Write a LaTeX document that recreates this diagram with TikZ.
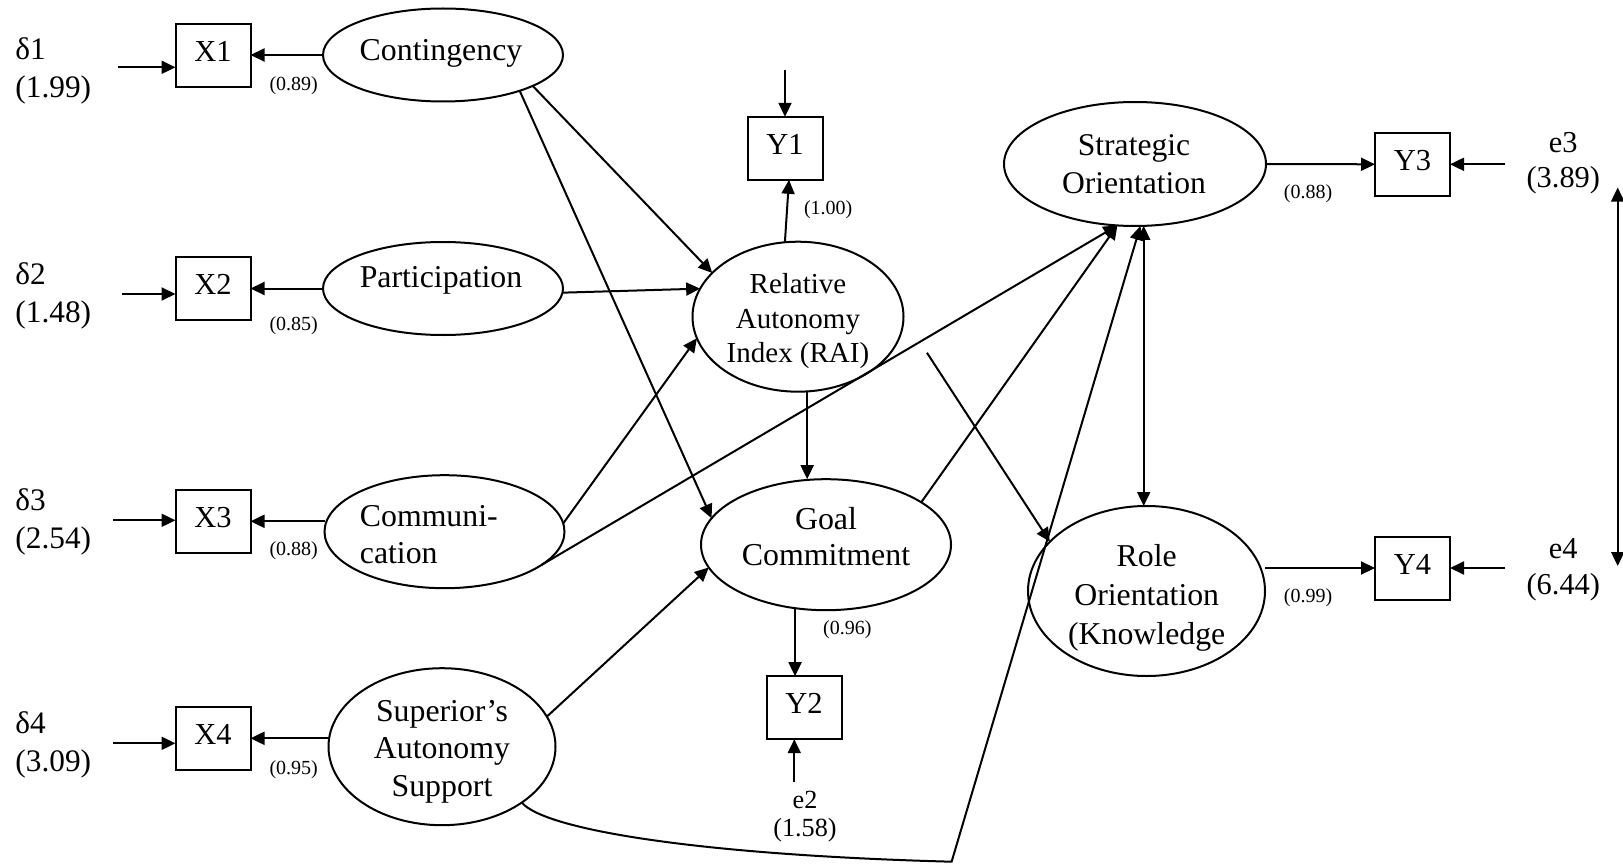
\documentclass[tikz,border=0pt]{standalone}
\usepackage{fontspec}
\setmainfont{Liberation Serif}
\usetikzlibrary{shapes.geometric,arrows.meta,calc}
\newcommand\fsz[2]{\fontsize{#1pt}{#2pt}\selectfont}

\begin{document}
\begin{tikzpicture}[x=1pt,y=-1pt,
  latent/.style={ellipse,draw,line width=2pt,inner sep=0pt,outer sep=0pt},
  observed/.style={rectangle,draw,line width=2pt,minimum width=75pt,minimum height=63pt,
    inner sep=0pt,outer sep=0pt,text depth=8pt,font=\fsz{30.5}{36}},
  arr/.style={line width=2pt,-{Triangle[length=14pt,width=13pt]}},
  darr/.style={line width=2pt,{Triangle[length=14pt,width=13pt]}-{Triangle[length=14pt,width=13pt]}},
  coef/.style={inner sep=0pt,font=\fsz{20}{24}},
  errlbl/.style={inner sep=0pt,align=left,anchor=west,font=\fsz{31.3}{38.3}},
  reslbl/.style={inner sep=0pt,align=center,font=\fsz{30.4}{35.5}},
  lbl/.style={inner sep=0pt,align=center,anchor=north},
]
\useasboundingbox (0,0) rectangle (1623,864);

% latent constructs
\node[latent,minimum width=240pt,minimum height=93pt]  (cont) at (443,55) {};
\node[latent,minimum width=240pt,minimum height=93pt]  (part) at (443,288.5) {};
\node[latent,minimum width=240pt,minimum height=113pt] (comm) at (444.5,531.7) {};
\node[latent,minimum width=227pt,minimum height=157pt] (sup)  at (442,746.7) {};
\node[latent,minimum width=211pt,minimum height=150pt] (rai)  at (798,316.7) {};
\node[latent,minimum width=250pt,minimum height=131pt] (gc)   at (826,544.7) {};
\node[latent,minimum width=262pt,minimum height=124pt] (so)   at (1135,164) {};
\node[latent,minimum width=237pt,minimum height=170pt] (ro)   at (1146.5,591) {};

% construct names
\node[lbl,font=\fsz{31.8}{38}] (conttxt) at (441,39.3) {Contingency};
\node[lbl,font=\fsz{31.8}{38}] (parttxt) at (441,266.7) {Participation};
\node[inner sep=0pt,anchor=north west,align=left,font=\fsz{31.8}{37}] (commtxt) at (359.7,505) {Communi-\\cation};
\node[lbl,font=\fsz{31.8}{37.5}] (suptxt) at (442,700) {Superior’s\\Autonomy\\Support};
\node[lbl,font=\fsz{29}{34.5}] (raitxt) at (798,273.3) {Relative\\Autonomy\\Index (RAI)};
\node[lbl,font=\fsz{31.9}{36.3}] (gctxt) at (826,506.7) {Goal\\Commitment};
\node[lbl,font=\fsz{31.6}{38.3}] (sotxt) at (1134,134.4) {Strategic\\Orientation};
\node[lbl,font=\fsz{31.8}{39}] (rotxt) at (1146.7,544) {Role\\Orientation\\(Knowledge};

% indicators
\node[observed] (x1) at (213,55.3) {X1};
\node[observed] (x2) at (213,288.5) {X2};
\node[observed] (x3) at (213,521.3) {X3};
\node[observed] (x4) at (213,738.3) {X4};
\node[observed] (y1) at (785,148.3) {Y1};
\node[observed] (y2) at (804,707.7) {Y2};
\node[observed] (y3) at (1412.5,164.3) {Y3};
\node[observed] (y4) at (1412.5,568) {Y4};

% error terms
\node[errlbl] (d1) at (15.3,70.8) {δ1\\(1.99)};
\node[errlbl] (d2) at (15.3,295.8) {δ2\\(1.48)};
\node[errlbl] (d3) at (15.3,522) {δ3\\(2.54)};
\node[errlbl] (d4) at (15.3,745) {δ4\\(3.09)};
\node[reslbl] (e3) at (1563.3,163.3) {e3\\(3.89)};
\node[reslbl] (e4) at (1563.3,569.5) {e4\\(6.44)};
\node[inner sep=0pt,align=center,font=\fsz{26.2}{28}] (e2) at (805,816.7) {e2\\(1.58)};

\coordinate (d1s) at (118,67.3);
\coordinate (d2s) at (121.7,294);
\coordinate (d3s) at (113,520.3);
\coordinate (d4s) at (113,743.3);
\coordinate (e1s) at (785,70);
\coordinate (e2s) at (794.3,781.7);
\coordinate (e3s) at (1505,164.3);
\coordinate (e4s) at (1505,568);
\coordinate (cvt) at (1617.7,187.5);
\coordinate (cvb) at (1617.7,566);
\coordinate (bend) at (951.6,861.7);

\draw[arr] (d1s) -- (d1s -| x1.west);
\draw[arr] (d2s) -- (d2s -| x2.west);
\draw[arr] (d3s) -- (d3s -| x3.west);
\draw[arr] (d4s) -- (d4s -| x4.west);
\draw[arr] (e1s) -- (e1s |- y1.north);
\draw[arr] (e2s) -- (e2s |- y2.south);
\draw[arr] (e3s) -- (y3.east);
\draw[arr] (e4s) -- (e4s -| y4.east);
\draw[darr] (cvt) -- (cvb);

% loadings
\draw[arr] (cont.west) -- (cont.west -| x1.east);
\draw[arr] (part.west) -- (part.west -| x2.east);
\draw[arr] (x3.east -| comm.west) -- (x3.east);
\draw[arr] (x4.east -| sup.west) -- (x4.east);
\draw[arr] (rai.100) -- ([xshift=4pt]y1.south);
\draw[arr] (gc.244) -- (gc.244 |- y2.north);
\draw[arr] (so.east) -- (y3.west);
\draw[arr] (y4.west -| ro.east) -- (y4.west);

\node[coef] (c1) at (293.7,85.8) {(0.89)};
\node[coef] (c2) at (293.7,325.8) {(0.85)};
\node[coef] (c3) at (293.7,550.8) {(0.88)};
\node[coef] (c4) at (293.7,769.2) {(0.95)};
\node[coef] (c5) at (828.2,209.2) {(1.00)};
\node[coef] (c6) at (847.3,630) {(0.96)};
\node[coef] (c7) at (1308,193.8) {(0.88)};
\node[coef] (c8) at (1308,597.3) {(0.99)};

% structural paths
\draw[arr] (cont.-19) -- (rai.153);
\draw[arr] (cont.-25) -- (gc.167);
\draw[arr] (part.-2) -- (rai.164);
\draw[arr] (comm.4) -- (rai.192);
\draw[arr] (comm.-19.5) -- (so.254);
\draw[arr] (rai.-83) -- (rai.-83 |- gc.north);
\draw[arr] (sup.16) -- (gc.191);
\draw[arr] (gc.24) -- (so.254);
\draw[arr,shorten <=43pt] (rai.east) -- (ro.153);
\draw[darr] (so.-82) -- (so.-82 |- ro.north);
\draw[arr] (sup.-35) .. controls (545,830) and (700,855) .. (bend) -- (so.-85);
\end{tikzpicture}
\end{document}
